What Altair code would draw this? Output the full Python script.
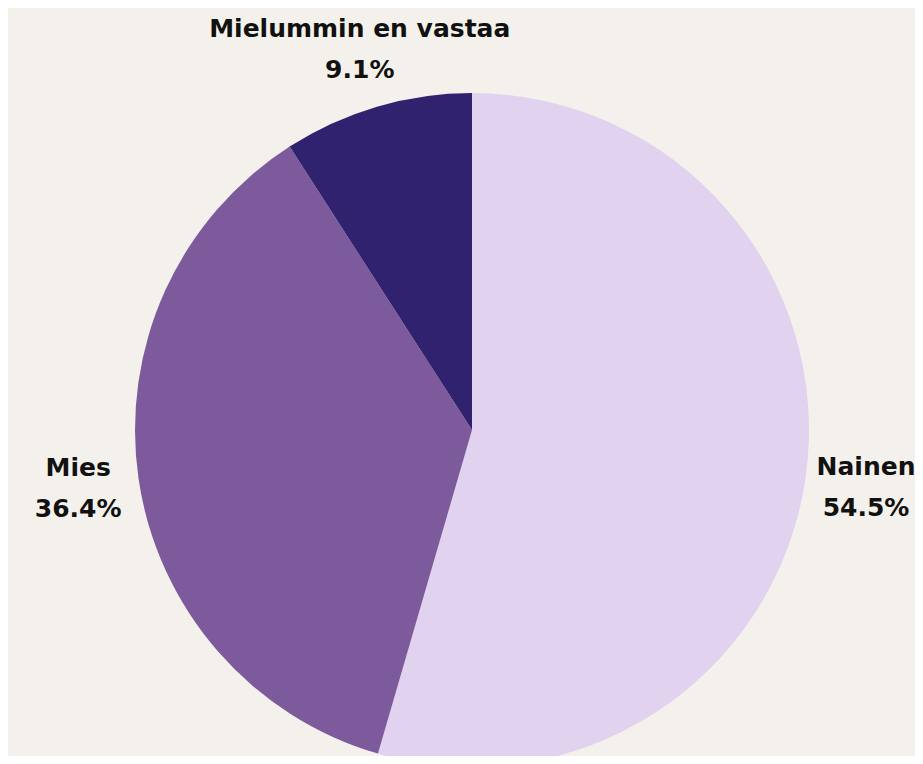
import altair as alt
import pandas as pd

categories = ["Nainen", "Mies", "Mielummin en vastaa"]
shares = [54.5, 36.4, 9.1]
label_texts = ["Nainen\n54.5%", "Mies\n36.4%", "Mielummin en vastaa\n9.1%"]
colors = ["#e1d3f0", "#7d5a9c", "#30226f"]

df = pd.DataFrame({
    "category": categories,
    "share": shares,
    "label": label_texts,
    "order": list(range(len(categories))),
})

cx, cy = 464, 422

base = alt.Chart(df).encode(
    theta=alt.Theta("share:Q", stack=True),
    order=alt.Order("order:Q"),
    x=alt.value(cx),
    y=alt.value(cy),
)

pie = base.mark_arc(radius=337, stroke=None).encode(
    color=alt.Color(
        "category:N",
        scale=alt.Scale(domain=categories, range=colors),
        legend=None,
    )
)

labels = base.mark_text(
    radius=398,
    dy=-19,
    font="DejaVu Sans",
    fontSize=25,
    fontWeight="bold",
    color="#111111",
    align="center",
    baseline="middle",
    lineBreak="\n",
    lineHeight=41,
).encode(text="label:N")

chart = (
    alt.layer(pie, labels)
    .properties(
        width=907,
        height=748,
        autosize=alt.AutoSizeParams(type="none"),
        padding=0,
        background="#f4f1ec",
    )
    .configure_view(stroke=None)
)

chart.save("out.html", embed_options={"renderer": "svg", "actions": False})
